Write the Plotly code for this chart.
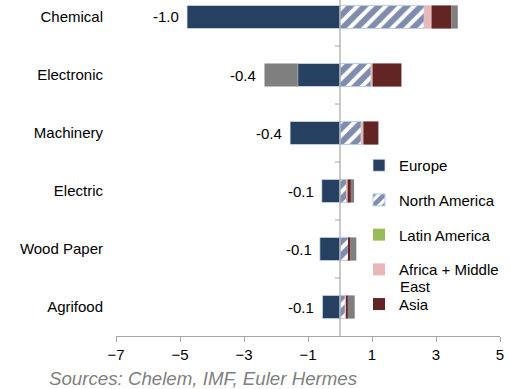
import plotly.graph_objects as go

categories = ["Chemical", "Electronic", "Machinery", "Electric", "Wood Paper", "Agrifood"]
europe = [-4.78, -1.32, -1.56, -0.57, -0.63, -0.55]
north_america = [2.63, 0.97, 0.66, 0.21, 0.26, 0.16]
latin_america = [0.0, 0.0, 0.0, 0.0, 0.0, 0.0]
africa_me = [0.23, 0.05, 0.07, 0.03, 0.02, 0.03]
asia = [0.62, 0.90, 0.47, 0.10, 0.05, 0.05]
other = [0.20, -1.04, 0.0, 0.10, 0.18, 0.22]
total_labels = ["-1.0", "-0.4", "-0.4", "-0.1", "-0.1", "-0.1"]
x_ticks = [-7, -5, -3, -1, 1, 3, 5]
source = "Sources: Chelem, IMF, Euler Hermes"

FONT = "Liberation Sans, Arial, sans-serif"

fig = go.Figure()
fig.add_trace(go.Bar(y=categories, x=europe, orientation="h", name="Europe",
                     legendgroup="eu",
                     marker=dict(color="#254061", line=dict(color="#dbe3ef", width=0.75))))
fig.add_trace(go.Bar(y=categories, x=north_america, orientation="h", name="North America",
                     legendgroup="na",
                     marker=dict(color="white",
                                 pattern=dict(shape="/", fgcolor="#001a5e", bgcolor="white",
                                              size=10, solidity=0.6),
                                 line=dict(color="#b9cde5", width=1))))
fig.add_trace(go.Bar(y=categories, x=latin_america, orientation="h", name="Latin America",
                     legendgroup="la",
                     marker=dict(color="#9bbb59", line=dict(width=0))))
fig.add_trace(go.Bar(y=categories, x=africa_me, orientation="h", name="Africa + Middle",
                     legendgroup="af",
                     marker=dict(color="#e6b9b8", line=dict(width=0))))
fig.add_trace(go.Bar(y=categories, x=asia, orientation="h", name="Asia",
                     legendgroup="as",
                     marker=dict(color="#632523", line=dict(width=0))))
fig.add_trace(go.Bar(y=categories, x=other, orientation="h", name="Other",
                     showlegend=False,
                     marker=dict(color="#7f7f7f", line=dict(width=0))))

annotations = []
for cat, lab, vals in zip(categories, total_labels,
                          zip(europe, north_america, latin_america, africa_me, asia, other)):
    neg = sum(v for v in vals if v < 0)
    annotations.append(dict(x=neg, y=cat, xref="x", yref="y", text=lab, showarrow=False,
                            xanchor="right", xshift=-6, font=dict(size=15, color="black", family=FONT)))
annotations.append(dict(x=(47 - 116) / 384, y=1 - 378 / 336, xref="paper", yref="paper",
                        text="<i>" + source + "</i>",
                        showarrow=False, xanchor="left", yanchor="middle",
                        font=dict(size=18.7, color="#7f7f7f", family=FONT)))
# continuation line of the wrapped legend label
annotations.append(dict(x=(398 - 116) / 384, y=1 - 286 / 336, xref="paper", yref="paper",
                        text="East", showarrow=False, xanchor="left", yanchor="middle",
                        font=dict(size=15, color="black", family=FONT)))

shapes = [dict(type="line", xref="x", yref="paper", x0=0, x1=0, y0=0, y1=1,
               line=dict(color="#a6a6a6", width=1.2), layer="above")]
for k in range(len(categories) - 1):
    shapes.append(dict(type="line", xref="x", yref="y", x0=-0.16, x1=0, y0=k + 0.5, y1=k + 0.5,
                       line=dict(color="#a6a6a6", width=1), layer="above"))

fig.update_layout(
    width=510, height=389,
    barmode="relative", bargap=0.6,
    margin=dict(l=116, r=10, t=0, b=53),
    paper_bgcolor="white", plot_bgcolor="white",
    font=dict(family=FONT, size=15, color="black"),
    showlegend=True,
    legend=dict(x=(359 - 116) / 384, y=1 - 149 / 336, xanchor="left", yanchor="top",
                bgcolor="rgba(0,0,0,0)", tracegroupgap=12.2,
                font=dict(size=15, color="black", family=FONT)),
    annotations=annotations,
    shapes=shapes,
)
fig.update_xaxes(range=[-7, 5], tickvals=x_ticks, showgrid=False, zeroline=False,
                 showline=True, linecolor="#a6a6a6", linewidth=1,
                 ticks="outside", ticklen=5, tickcolor="#a6a6a6",
                 tickfont=dict(size=15, color="black"))
fig.update_yaxes(categoryorder="array", categoryarray=categories[::-1],
                 range=[-0.5, 5.293], showgrid=False, zeroline=False, showline=False,
                 ticks="", ticklabelstandoff=12, tickfont=dict(size=15, color="black"))

fig.write_html("out.html")
